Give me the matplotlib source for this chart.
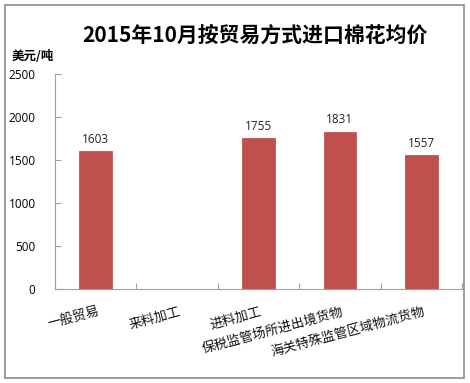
import matplotlib
matplotlib.use("Agg")
import matplotlib.pyplot as plt
from matplotlib.patches import Rectangle
import numpy as np

plt.rcParams['font.family'] = ['Noto Sans CJK SC', 'DejaVu Sans']

categories = ["一般贸易", "来料加工", "进料加工", "保税监管场所进出境货物", "海关特殊监管区域物流货物"]
values = [1603, None, 1755, 1831, 1557]
yticks = [0, 500, 1000, 1500, 2000, 2500]
title = "2015年10月按贸易方式进口棉花均价"
unit = "美元/吨"

fig = plt.figure(figsize=(4.70, 3.83), dpi=100)
ax = fig.add_axes([55/470, 1-289/383, 407/470, 215/383])

x = np.arange(len(categories))
for xi, v in zip(x, values):
    if v is None:
        continue
    ax.bar(xi, v, width=0.4, color="#C0504D", edgecolor="#B84744", linewidth=0.5)
    ax.text(xi, v + 60, f"{v}", ha="center", va="bottom", fontsize=8.5,
            family=["Open Sans", "DejaVu Sans"], color="#222222")

ax.set_xlim(-0.5, len(categories) - 0.5)
ax.set_ylim(0, 2500)
ax.set_yticks(yticks)
ax.set_yticklabels([str(t) for t in yticks], fontsize=8.5, family=["Open Sans", "DejaVu Sans"])
ax.tick_params(axis="y", direction="in", length=4, color="#A0A0A0", pad=14)
ax.set_xticks(np.arange(len(categories) + 1) - 0.5)
ax.set_xticklabels([])
ax.tick_params(axis="x", direction="in", length=4, color="#A0A0A0")
for s in ["top", "right"]:
    ax.spines[s].set_visible(False)
ax.spines["left"].set_color("#A0A0A0")
ax.spines["bottom"].set_color("#A0A0A0")

for xi, lab in zip(x, categories):
    ax.text(xi + 0.02, -0.075, lab, transform=ax.get_xaxis_transform(), ha="right", va="top",
            rotation=15, rotation_mode="anchor", fontsize=9.5, color="#111111")

fig.text(255/470, 1-35/383, title, ha="center", va="center", fontsize=15, fontweight="bold")
fig.text(12/470, 1-57/383, unit, ha="left", va="center", fontsize=9, fontweight="bold")

fig.patches.append(Rectangle((5/470, 5/383), 459/470, 373/383, transform=fig.transFigure,
                             fill=False, edgecolor="#8C8C8C", linewidth=1.2))

fig.savefig("out.png", dpi=100)
